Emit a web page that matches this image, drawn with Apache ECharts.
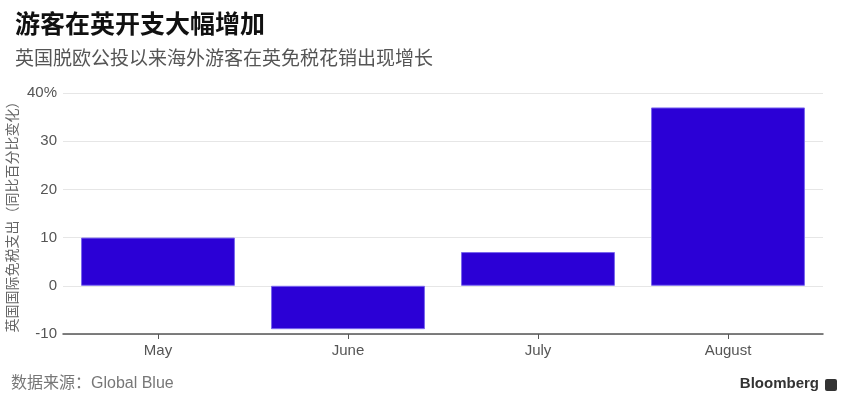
<!DOCTYPE html>
<html><head><meta charset="utf-8">
<script src="https://cdn.jsdelivr.net/npm/echarts@6/dist/echarts.min.js"></script>
<style>html,body{margin:0;padding:0;background:#fff;}#c{width:857px;height:410px;}</style>
</head><body><div id="c"></div>
<script>
const categories = ['May', 'June', 'July', 'August'];
const values = [10, -9, 7, 37];
const yTicks = [-10, 0, 10, 20, 30, 40];
const titleText = '游客在英开支大幅增加';
const subtitleText = '英国脱欧公投以来海外游客在英免税花销出现增长';
const yName = '英国国际免税支出（同比百分比变化）';
const sourceText = '数据来源：Global Blue';

const chart = echarts.init(document.getElementById('c'));
chart.setOption({
  animation: false,
  backgroundColor: '#fff',
  title: [
    { text: titleText, left: 10, top: 6,
      textStyle: { fontFamily: 'Noto Sans CJK SC', fontSize: 25, fontWeight: 'bold', color: '#111' } },
    { text: subtitleText, left: 10, top: 43,
      textStyle: { fontFamily: 'Noto Sans CJK SC', fontSize: 19, fontWeight: 'normal', color: '#555' } }
  ],
  grid: { left: 63, right: 34, top: 93, bottom: 76, containLabel: false, outerBoundsMode: 'none' },
  xAxis: {
    type: 'category', data: categories,
    axisLine: { show: true, onZero: false, lineStyle: { color: '#555', width: 1.5 } },
    axisTick: { show: true, alignWithLabel: true, length: 5, lineStyle: { color: '#555' } },
    axisLabel: { color: '#555', fontSize: 15, fontFamily: 'Liberation Sans', margin: 9 }
  },
  yAxis: {
    type: 'value', min: yTicks[0], max: yTicks[yTicks.length - 1], interval: 10,
    name: yName, nameLocation: 'middle', nameGap: 44, nameRotate: 90, nameMoveOverlap: false,
    nameTextStyle: { fontFamily: 'Noto Sans CJK SC', fontSize: 14, color: '#666' },
    axisLine: { show: false }, axisTick: { show: false },
    axisLabel: { color: '#555', fontSize: 15, fontFamily: 'Liberation Sans', margin: 6,
      formatter: v => v === yTicks[yTicks.length - 1] ? v + '%' : String(v) },
    splitLine: { lineStyle: { color: '#e6e6e6', width: 1 } }
  },
  series: [
    { type: 'bar', data: values, barCategoryGap: '19%',
      itemStyle: { color: '#2b00d6', borderColor: '#7a66ee', borderWidth: 1 } }
  ],
  graphic: [
    { type: 'text', left: 11, top: 376,
      style: { text: sourceText, fontFamily: 'Liberation Sans, Noto Sans CJK SC', fontSize: 16, fill: '#777' } },
    { type: 'text', right: 38, top: 376,
      style: { text: 'Bloomberg', fontFamily: 'Liberation Sans', fontWeight: 'bold', fontSize: 15, fill: '#333' } },
    { type: 'rect', right: 20, top: 379, shape: { width: 12, height: 12, r: 2 }, style: { fill: '#333' } }
  ]
});
</script></body></html>
